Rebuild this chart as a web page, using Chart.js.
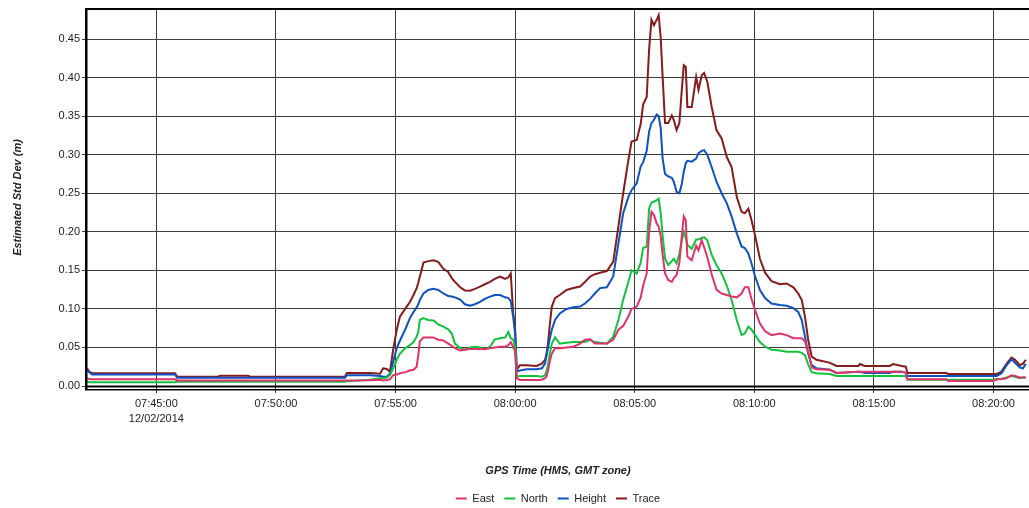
<!DOCTYPE html>
<html>
<head>
<meta charset="utf-8">
<script src="https://cdn.jsdelivr.net/npm/chart.js@4.4.1/dist/chart.umd.min.js"></script>
<style>
html,body{margin:0;padding:0;background:#fff;overflow:hidden}
#wrap{position:relative;width:1029px;height:514px}
</style>
</head>
<body>
<div id="wrap"><canvas id="c"></canvas></div>
<script>
// ---- data (GPS time, estimated std dev in metres) ----
const times = [
 "07:42:06","07:42:11","07:42:19","07:45:47","07:45:52","07:47:35","07:47:40","07:48:50","07:48:55","07:52:53","07:52:58","07:53:56","07:54:21",
 "07:54:29","07:54:38","07:54:46","07:54:54","07:55:03","07:55:11","07:55:24","07:55:36","07:55:45","07:55:53","07:55:57","07:56:01","07:56:10","07:56:22","07:56:35","07:56:47","07:57:00","07:57:12","07:57:21","07:57:29","07:57:42","07:57:54","07:58:07","07:58:19","07:58:32","07:58:44","07:58:57","07:59:09","07:59:22","07:59:35","07:59:43","07:59:49","07:59:55","08:00:00","08:00:04","08:00:12",
 "08:00:29","08:00:54","08:01:07","08:01:15","08:01:19","08:01:23","08:01:27","08:01:32","08:01:40","08:01:52","08:02:09","08:02:26","08:02:43","08:02:55","08:03:08","08:03:20","08:03:33","08:03:50","08:04:06",
 "08:04:19","08:04:31","08:04:44","08:04:52","08:05:05","08:05:15","08:05:21","08:05:30","08:05:36","08:05:42","08:05:48","08:05:55","08:06:00","08:06:05","08:06:10","08:06:16","08:06:24","08:06:33","08:06:38","08:06:45","08:06:52","08:06:58","08:07:03","08:07:08","08:07:12","08:07:23","08:07:34","08:07:40","08:07:48","08:07:54","08:08:02","08:08:13","08:08:25","08:08:38","08:08:51",
 "08:09:03","08:09:16","08:09:28","08:09:36","08:09:45","08:09:53","08:10:02","08:10:14","08:10:27","08:10:43","08:11:04","08:11:21","08:11:38","08:11:50","08:11:59","08:12:07","08:12:15","08:12:24","08:12:36","08:13:10",
 "08:13:26","08:14:21","08:14:25","08:14:37","08:15:40","08:15:48","08:16:10","08:16:20","08:16:24","08:18:02","08:18:06","08:19:59","08:20:08","08:20:20","08:20:33","08:20:45","08:20:54","08:21:06","08:21:14","08:21:21"
];
const east = [
 0.010,0.009,0.0087,0.0087,0.0072,0.0072,0.0072,0.0072,0.0072,0.0072,0.0072,0.0075,0.008,
 0.007,0.0078,0.0087,0.014,0.015,0.0165,0.018,0.020,0.021,0.025,0.040,0.058,0.063,0.063,0.063,0.060,0.059,0.055,0.052,0.049,0.046,0.047,0.048,0.048,0.048,0.048,0.049,0.050,0.051,0.051,0.053,0.057,0.051,0.0445,0.010,0.0078,
 0.0078,0.0078,0.0082,0.010,0.013,0.021,0.032,0.042,0.049,0.049,0.050,0.051,0.055,0.060,0.0605,0.055,0.055,0.055,0.060,
 0.073,0.078,0.090,0.100,0.103,0.115,0.130,0.146,0.200,0.226,0.222,0.211,0.207,0.195,0.170,0.146,0.1375,0.135,0.140,0.144,0.160,0.194,0.220,0.215,0.168,0.163,0.182,0.176,0.189,0.180,0.167,0.145,0.125,0.120,0.118,
 0.116,0.115,0.120,0.128,0.128,0.113,0.098,0.081,0.071,0.066,0.068,0.066,0.062,0.062,0.062,0.058,0.045,0.024,0.0216,0.021,
 0.017,0.0186,0.0186,0.0186,0.0186,0.0186,0.0186,0.017,0.0087,0.0087,0.0065,0.0065,0.0087,0.009,0.010,0.014,0.013,0.011,0.011,0.011
];
const north = [
 0.006,0.005,0.005,0.005,0.0055,0.0055,0.0055,0.0055,0.0055,0.0055,0.006,0.008,0.010,
 0.010,0.011,0.014,0.023,0.034,0.042,0.049,0.053,0.057,0.064,0.070,0.0856,0.088,0.0856,0.085,0.080,0.077,0.0735,0.068,0.055,0.049,0.047,0.050,0.051,0.050,0.0476,0.051,0.0605,0.062,0.063,0.070,0.062,0.060,0.051,0.012,0.013,
 0.013,0.013,0.012,0.014,0.020,0.029,0.042,0.055,0.063,0.055,0.056,0.057,0.057,0.057,0.060,0.057,0.056,0.055,0.064,
 0.0856,0.112,0.135,0.150,0.146,0.160,0.179,0.181,0.230,0.238,0.239,0.241,0.243,0.225,0.195,0.165,0.157,0.162,0.165,0.159,0.172,0.188,0.200,0.192,0.183,0.178,0.190,0.190,0.192,0.193,0.189,0.170,0.157,0.146,0.130,
 0.1115,0.0856,0.066,0.068,0.077,0.073,0.066,0.057,0.051,0.047,0.046,0.0445,0.0445,0.0445,0.043,0.040,0.028,0.018,0.0165,0.0156,
 0.013,0.013,0.013,0.013,0.013,0.013,0.013,0.013,0.008,0.008,0.008,0.008,0.0087,0.009,0.011,0.013,0.012,0.010,0.011,0.011
];
const height = [
 0.022,0.018,0.015,0.015,0.0108,0.0108,0.0108,0.0108,0.0108,0.0108,0.014,0.014,0.013,
 0.012,0.012,0.016,0.031,0.049,0.059,0.073,0.088,0.096,0.102,0.106,0.1115,0.120,0.1245,0.126,0.1245,0.120,0.1167,0.116,0.115,0.112,0.106,0.104,0.106,0.109,0.113,0.116,0.118,0.118,0.115,0.114,0.110,0.090,0.068,0.0186,0.020,
 0.0216,0.0216,0.023,0.029,0.040,0.051,0.062,0.073,0.0856,0.094,0.100,0.102,0.103,0.107,0.113,0.120,0.127,0.128,0.142,
 0.185,0.224,0.245,0.254,0.263,0.285,0.290,0.305,0.330,0.341,0.345,0.352,0.350,0.335,0.295,0.275,0.272,0.270,0.265,0.252,0.250,0.262,0.278,0.289,0.292,0.291,0.295,0.302,0.305,0.306,0.300,0.284,0.265,0.250,0.237,
 0.220,0.198,0.181,0.179,0.172,0.159,0.142,0.1245,0.114,0.107,0.105,0.104,0.101,0.096,0.0856,0.064,0.042,0.027,0.023,0.021,
 0.017,0.0186,0.0186,0.017,0.017,0.0186,0.0186,0.017,0.013,0.013,0.013,0.013,0.013,0.0165,0.027,0.0346,0.030,0.024,0.023,0.029
];
const trace = [
 0.023,0.019,0.0165,0.0165,0.012,0.012,0.0134,0.0134,0.012,0.012,0.0169,0.017,0.016,
 0.023,0.022,0.0186,0.047,0.073,0.090,0.100,0.109,0.118,0.127,0.134,0.142,0.160,0.162,0.163,0.161,0.152,0.148,0.140,0.135,0.128,0.124,0.1236,0.126,0.129,0.132,0.135,0.139,0.142,0.139,0.141,0.146,0.095,0.073,0.021,0.027,
 0.027,0.026,0.029,0.034,0.042,0.058,0.080,0.103,0.114,0.118,0.1245,0.127,0.129,0.135,0.142,0.145,0.147,0.149,0.161,
 0.207,0.250,0.293,0.317,0.319,0.340,0.365,0.375,0.436,0.475,0.468,0.475,0.481,0.453,0.401,0.341,0.341,0.351,0.345,0.332,0.341,0.384,0.416,0.414,0.362,0.362,0.401,0.384,0.403,0.406,0.395,0.362,0.332,0.321,0.297,
 0.284,0.245,0.226,0.224,0.230,0.215,0.195,0.165,0.147,0.136,0.132,0.133,0.128,0.120,0.1115,0.090,0.060,0.038,0.034,0.030,
 0.026,0.026,0.0285,0.026,0.026,0.0285,0.026,0.025,0.017,0.017,0.0156,0.0156,0.0156,0.0186,0.029,0.037,0.034,0.027,0.029,0.034
];
const seriesNames = ["East","North","Height","Trace"];
const xTickLabels = ["07:45:00","07:50:00","07:55:00","08:00:00","08:05:00","08:10:00","08:15:00","08:20:00"];
const dateLabel = "12/02/2014";
const xRange = ["07:42:06","08:21:29"];
const yTicks = [0,0.05,0.10,0.15,0.20,0.25,0.30,0.35,0.40,0.45];
const yMax = 0.489;
const xTitle = "GPS Time (HMS, GMT zone)";
const yTitle = "Estimated Std Dev (m)";

// ---- styling ----
const colors = ["#e0336a","#12c23f","#0d52c0","#861b1b"];
const toSec = s => { const p = s.split(':').map(Number); return p[0]*3600 + p[1]*60 + p[2]; };
const xs = times.map(toSec);
const mk = arr => xs.map((x,i) => ({x: x, y: arr[i]}));
const seriesData = [east, north, height, trace];

Chart.defaults.font.family = "'Liberation Sans', Arial, sans-serif";
Chart.defaults.font.size = 11;
Chart.defaults.color = "#222";

const framePlugin = {
  id: 'frame',
  afterDatasetsDraw(chart) {
    const {ctx, chartArea: a} = chart;
    ctx.save();
    ctx.fillStyle = '#000';
    ctx.fillRect(a.left, a.top - 1, a.right - a.left, 2);          // top
    ctx.fillRect(a.left - 2, a.top - 1, 2.5, a.bottom - a.top + 5); // left
    ctx.fillRect(a.left - 2, a.bottom - 0.5, a.right - a.left + 2, 2); // bottom line 1
    ctx.fillRect(a.left - 2, a.bottom + 3, a.right - a.left + 2, 1.5); // bottom line 2
    ctx.restore();
  }
};

new Chart(document.getElementById('c'), {
  type: 'line',
  data: {
    datasets: seriesNames.map((n, i) => ({
      label: n,
      data: mk(seriesData[i]),
      borderColor: colors[i],
      backgroundColor: colors[i],
      borderWidth: 2,
      pointRadius: 0,
      tension: 0,
      fill: false
    }))
  },
  options: {
    responsive: true,
    maintainAspectRatio: false,
    animation: false,
    layout: { padding: { top: 9, right: 0, bottom: 0, left: 0 } },
    plugins: {
      legend: {
        position: 'bottom',
        fullSize: false,
        labels: {
          boxWidth: 11, boxHeight: 2, padding: 10,
          font: { size: 11 }, color: '#222',
          generateLabels(chart) {
            return chart.data.datasets.map((d, i) => ({
              text: d.label, fillStyle: d.borderColor, strokeStyle: d.borderColor,
              lineWidth: 0, hidden: false, datasetIndex: i, fontColor: '#222'
            }));
          }
        }
      },
      tooltip: { enabled: false }
    },
    scales: {
      x: {
        type: 'linear',
        min: toSec(xRange[0]),
        max: toSec(xRange[1]),
        afterBuildTicks: s => { s.ticks = xTickLabels.map(t => ({ value: toSec(t) })); },
        ticks: {
          autoSkip: false, maxRotation: 0, minRotation: 0, padding: 4,
          font: { size: 11, lineHeight: 1.35 }, color: '#222',
          callback: (v, i) => i === 0 ? [xTickLabels[i], dateLabel] : xTickLabels[i]
        },
        grid: { color: '#3c3c3c', lineWidth: 1, tickLength: 7, drawTicks: true },
        border: { display: false },
        title: {
          display: true, text: xTitle, color: '#222',
          font: { size: 11, weight: 'bold', style: 'italic' },
          padding: { top: 0, bottom: 5 }
        },
        afterFit: s => { s.height = 97; s.paddingLeft = 0; s.paddingRight = 0; }
      },
      y: {
        type: 'linear',
        min: 0,
        max: yMax,
        afterBuildTicks: s => { s.ticks = yTicks.map(v => ({ value: v })); },
        ticks: { padding: 2, color: '#222', font: { size: 11 }, callback: v => v.toFixed(2) },
        grid: { color: '#3c3c3c', lineWidth: 1, tickLength: 5, drawTicks: true },
        border: { display: false },
        title: {
          display: true, text: yTitle, color: '#222',
          font: { size: 11, weight: 'bold', style: 'italic' },
          padding: { top: 11, bottom: 0 }
        },
        afterFit: s => { s.width = 87; s.paddingTop = 0; s.paddingBottom = 0; }
      }
    }
  },
  plugins: [framePlugin]
});
</script>
</body>
</html>
